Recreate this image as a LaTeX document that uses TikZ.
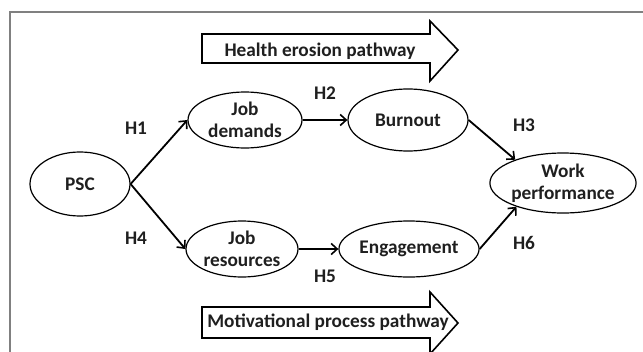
\documentclass[tikz,border=0pt]{standalone}
\usepackage{fontspec}
\setmainfont{Carlito}
\usetikzlibrary{shapes.geometric,arrows.meta}
\begin{document}
\begin{tikzpicture}[x=1pt,y=-1pt,
 ell/.style={draw, ellipse, line width=1.2pt, inner sep=0pt, font=\fontsize{19.3}{21.5}\selectfont\bfseries, align=center, text=black!88},
 conn/.style={line width=1.8pt, -{Straight Barb[length=6pt,width=11pt,line width=1.6pt]}},
 lab/.style={font=\fontsize{19.3}{21}\selectfont\bfseries, text=black!88, inner sep=0pt},
 blockarrow/.style={draw, line width=1.6pt, fill=white, line join=miter},
 bigtext/.style={font=\fontsize{19.3}{21}\selectfont\bfseries, text=black!88, inner sep=0pt}
]
\useasboundingbox (0,0) rectangle (643,351);
\draw[gray, line width=1.2pt] (10,12) rectangle (700,400);

% block arrows
\draw[blockarrow] (202,34) -- (430,34) -- (430,21) -- (458,50) -- (430,81) -- (430,63) -- (202,63) -- cycle;
\draw[blockarrow] (202,307) -- (430,307) -- (430,292) -- (458,323) -- (430,354) -- (430,338) -- (202,338) -- cycle;
\node[bigtext] (hep) at (320,51) {Health erosion pathway};
\node[bigtext] (mpp) at (328,322) {Motivational process pathway};

% nodes
\node[ell, minimum width=100pt, minimum height=64pt] (psc) at (80,184) {PSC};
\node[ell, minimum width=114pt, minimum height=56pt] (jd) at (245,120) {Job\\demands};
\node[ell, minimum width=120pt, minimum height=62pt] (bo) at (408,120) {Burnout};
\node[ell, minimum width=126pt, minimum height=60pt] (wp) at (563,183) {Work\\performance};
\node[ell, minimum width=112pt, minimum height=56pt] (jr) at (242,249) {Job\\resources};
\node[ell, minimum width=124pt, minimum height=56pt] (en) at (409,249) {Engagement};

% connectors
\draw[conn] (psc.east) -- (jd.west);
\draw[conn] (psc.east) -- (jr.west);
\draw[conn] (jd.east) -- (bo.west);
\draw[conn] (jr.east) -- (en.west);
\draw[conn] (bo.east) -- (wp.154);
\draw[conn] (en.east) -- (wp.207);

% labels
\node[lab] (h1) at (136,128) {H1};
\node[lab] (h2) at (325,93) {H2};
\node[lab] (h3) at (524,125) {H3};
\node[lab] (h4) at (136,238) {H4};
\node[lab] (h5) at (325,276) {H5};
\node[lab] (h6) at (524,243) {H6};
\end{tikzpicture}
\end{document}
